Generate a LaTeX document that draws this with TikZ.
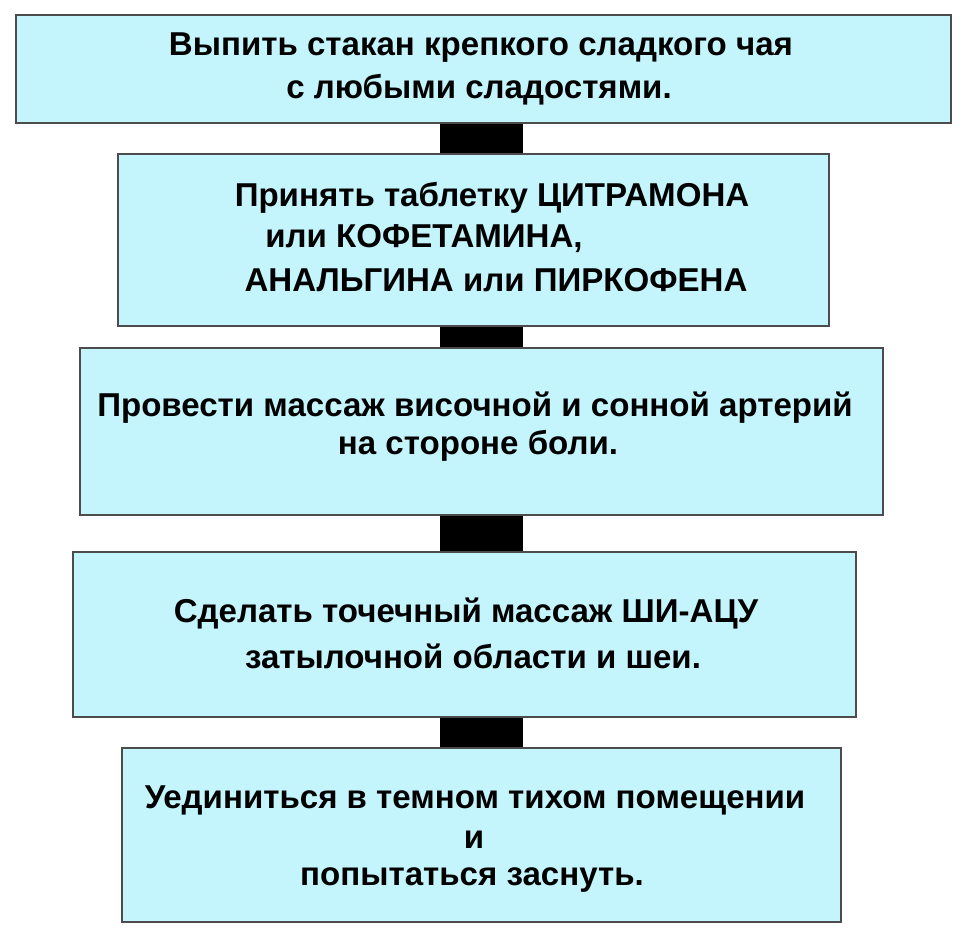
\documentclass[tikz,border=0pt]{standalone}
\usepackage{fontspec}
\setmainfont{Liberation Sans}
\definecolor{boxfill}{HTML}{C4F4FC}
\begin{document}
\begin{tikzpicture}[x=0.75pt,y=-0.75pt,
  box/.style={draw=black!70,line width=1pt,fill=boxfill},
  txt/.style={font=\fontsize{24.8}{28}\selectfont\bfseries,inner sep=0pt,anchor=center}]
\useasboundingbox (0,0) rectangle (972,939);
\fill[black] (440,120) rectangle (523,752);
\draw[box] (16,15) rectangle (951,123);
\draw[box] (118,154) rectangle (829,326);
\draw[box] (80,348) rectangle (883,515);
\draw[box] (73,552) rectangle (856,717);
\draw[box] (122,748) rectangle (841,922);
\node[txt] (a1) at (481,48) {Выпить стакан крепкого сладкого чая};
\node[txt] (a2) at (479,90) {с любыми сладостями.};
\node[txt] (b1) at (492,198) {Принять таблетку ЦИТРАМОНА};
\node[txt] (b2) at (424,239) {или КОФЕТАМИНА,};
\node[txt] (b3) at (496,280) {АНАЛЬГИНА или ПИРКОФЕНА};
\node[txt] (c1) at (475,408) {Провести массаж височной и сонной артерий};
\node[txt] (c2) at (478,446) {на стороне боли.};
\node[txt] (d1) at (466,613) {Сделать точечный массаж ШИ-АЦУ};
\node[txt] (d2) at (473,656) {затылочной области и шеи.};
\node[txt] (e1) at (475,800) {Уединиться в темном тихом помещении};
\node[txt] (e2) at (474,840) {и};
\node[txt] (e3) at (472,880) {попытаться заснуть.};
\end{tikzpicture}
\end{document}
